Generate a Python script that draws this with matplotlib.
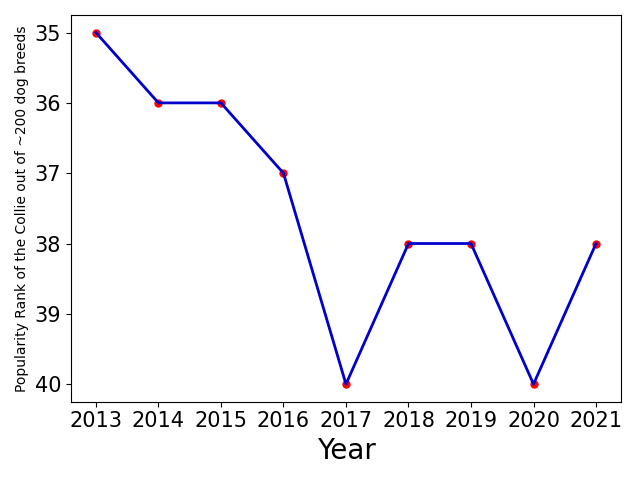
import matplotlib
matplotlib.use('Agg')
import matplotlib.pyplot as plt

years = [2013, 2014, 2015, 2016, 2017, 2018, 2019, 2020, 2021]
rank = [35, 36, 36, 37, 40, 38, 38, 40, 38]

fig, ax = plt.subplots(figsize=(6.4, 4.8), dpi=100)
ax.scatter(years, rank, color='red', s=25, zorder=2)
ax.plot(years, rank, color='mediumblue', linewidth=2, zorder=3)
ax.invert_yaxis()
ax.set_xticks(years)
ax.tick_params(labelsize=15)
ax.set_xlabel('Year', fontsize=20)
ax.set_ylabel('Popularity Rank of the Collie out of ~200 dog breeds', fontsize=10)
fig.tight_layout()
fig.savefig('out.png')
